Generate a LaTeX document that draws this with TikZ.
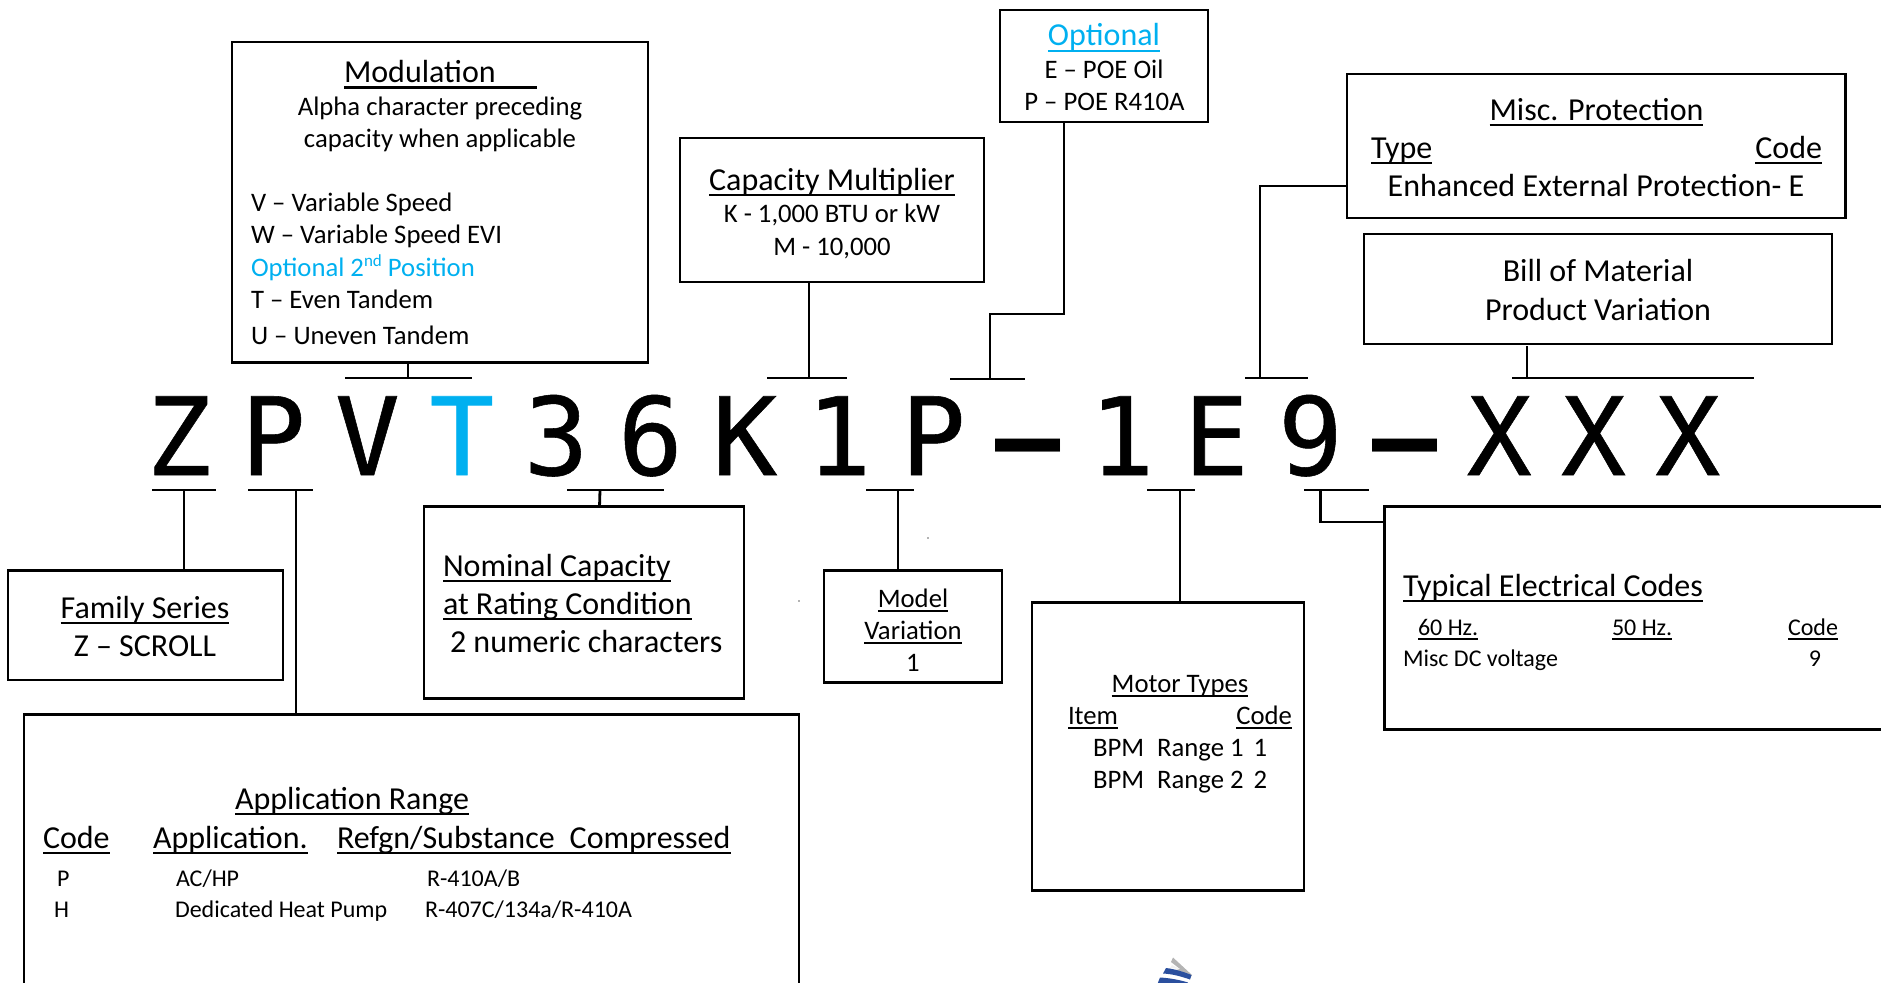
\documentclass[tikz,border=0pt]{standalone}
\usepackage{fontspec}
\setmainfont{Carlito}
\newfontfamily\codefont[LetterSpace=27.1,FakeBold=0.5]{DejaVu Sans Mono}
\newfontfamily\codedash{DejaVu Sans Mono Bold}
\definecolor{optblue}{HTML}{00B0F0}
\definecolor{logoblue}{HTML}{2A4F9E}
\definecolor{logogray}{HTML}{B4B4B4}
\newsavebox\ulbox
\newcommand\ul[1]{\sbox\ulbox{#1}\leavevmode\rlap{\rule[-0.195em]{\wd\ulbox}{0.08em}}\usebox\ulbox}
\newcommand\szH{\fontsize{32}{38}\selectfont}
\newcommand\szB{\fontsize{26.7}{32}\selectfont}
\newcommand\szS{\fontsize{24}{29}\selectfont}
\newcommand\gapc{\kern 29.3pt\relax}
\newcommand\dashc{{\codedash –}}
\newcommand\bx[5]{\node[boxs,minimum width={(#4-#2)*1pt},minimum height={(#5-#3)*1pt}] (#1) at ({(#2+#4)/2},{(#3+#5)/2}) {};}
\newcommand\tbar[5]{\coordinate (#1l) at (#2,#4);\coordinate (#1r) at (#3,#4);\coordinate (#1m) at (#5,#4);\draw[conn] (#1l) -- (#1r);}
\tikzset{
  boxs/.style={draw=black,line width=2.8pt,inner sep=0pt,outer sep=0pt,fill=none},
  conn/.style={draw=black,line width=2.8pt},
  thin conn/.style={draw=black,line width=2pt},
  tl/.style={anchor=base west,inner sep=0pt,outer sep=0pt},
  tc/.style={anchor=base,inner sep=0pt,outer sep=0pt},
  tr/.style={anchor=base east,inner sep=0pt,outer sep=0pt},
}
\begin{document}
\begin{tikzpicture}[x=1pt,y=-1pt]
\useasboundingbox (0,0) rectangle (1881,982);
\clip (0,0) rectangle (1881,982);
% boxes
\bx{mod}{232}{42}{648}{362.5}
\bx{opt}{1000}{10}{1208}{122}
\bx{cap}{680}{138}{984}{282}
\bx{misc}{1347}{74}{1845.5}{218}
\bx{bom}{1364}{234}{1832}{344}
\bx{fam}{8}{570.5}{283}{680}
\bx{nom}{424}{506.5}{744}{698.5}
\bx{mdl}{824}{570.5}{1002}{682.5}
\bx{mot}{1032}{602.5}{1304}{890.5}
\bx{ele}{1384.5}{506.5}{1900}{729.5}
\bx{app}{24}{714.5}{799}{1000}
% code
\node[tl] (code) at (146.5,475) {\fontsize{108}{108}\codefont ZPV\gapc\textcolor{optblue}{T}\gapc 36K1P\gapc\dashc\gapc 1E9\gapc\dashc\gapc XXX};
% top bars
\tbar{a}{345}{472}{378}{408}
\draw[conn] (am) -- (am |- mod.south);
\tbar{b}{767}{847}{378}{809}
\draw[conn] (bm) -- (bm |- cap.south);
\tbar{c}{950}{1025}{379}{990}
\coordinate (cj) at (1064,314);
\draw[conn] (cm) -- (cm |- cj) -- (cj) -- (cj |- opt.south);
\tbar{d}{1245}{1308}{378}{1260}
\coordinate (dj) at (1260,186);
\draw[conn] (dm) -- (dj) -- (dj -| misc.west);
\tbar{e}{1512}{1754}{378}{1527}
\coordinate (et) at (1527,346);
\draw[conn] (em) -- (et);
% bottom bars
\tbar{f}{152}{216}{490}{184}
\draw[conn] (fm) -- (fm |- fam.north);
\tbar{g}{248}{313}{490}{296}
\draw[thin conn] (gm) -- (gm |- app.north);
\tbar{h}{567}{664}{490}{600}
\draw[conn] (hm) -- (599.5,507);
\tbar{i}{866}{914}{490}{898}
\draw[conn] (im) -- (im |- mdl.north);
\tbar{j}{1147}{1195}{490}{1180}
\draw[conn] (jm) -- (jm |- mot.north);
\coordinate (jl2) at (1122,602.5);
\coordinate (jr2) at (1186,602.5);
\draw[line width=3.2pt] (jl2) -- (jr2);
\tbar{k}{1304}{1369}{490}{1320.5}
\coordinate (kj) at (1320.5,522);
\draw[conn] (km) -- (kj) -- (kj -| ele.west);
% Modulation
\node[tl] (m1) at (344,82.5) {\szH\ul{Modulation\hspace{41pt}}};
\node[tc] (m2) at (440,115.5) {\szB Alpha character preceding};
\node[tc] (m3) at (440,147.5) {\szB capacity when applicable};
\node[tl] (m4) at (251,211) {\szB V – Variable Speed};
\node[tl] (m5) at (251,243) {\szB W – Variable Speed EVI};
\node[tl] (m6) at (251,276) {\szB\color{optblue}Optional 2\raisebox{0.36em}{\fontsize{17}{17}\selectfont nd} Position};
\node[tl] (m7) at (251,308) {\szB T – Even Tandem};
\node[tl] (m8) at (251,344.5) {\szB U – Uneven Tandem};
% Optional
\node[tc] (o1) at (1104,46) {\szH\color{optblue}\ul{Optional}};
\node[tc] (o2) at (1104,78) {\szB E – POE Oil};
\node[tc] (o3) at (1104.5,110) {\szB P – POE R410A};
% Capacity
\node[tc] (c1) at (832,190) {\szH\ul{Capacity Multiplier}};
\node[tc] (c2) at (832,222.5) {\szB K - 1,000 BTU or kW};
\node[tc] (c3) at (832,255) {\szB M - 10,000};
% Misc
\node[tc] (p1) at (1596.5,120) {\szH\ul{Misc. Protection}};
\node[tl] (p2) at (1371,158) {\szH\ul{Type}};
\node[tr] (p3) at (1822,158) {\szH\ul{Code}};
\node[tc] (p4) at (1596,196) {\szH Enhanced External Protection- E};
% BoM
\node[tc] (q1) at (1598,281) {\szH Bill of Material};
\node[tc] (q2) at (1598,320) {\szH Product Variation};
% Family
\node[tc] (f1) at (145,618) {\szH\ul{Family Series}};
\node[tc] (f2) at (145,656) {\szH Z – SCROLL};
% Nominal
\node[tl] (n1) at (443,576) {\szH\ul{Nominal Capacity}};
\node[tl] (n2) at (443,614) {\szH\ul{at Rating Condition}};
\node[tl] (n3) at (450,652) {\szH 2 numeric characters};
% Model
\node[tc] (v1) at (913,607) {\szB\ul{Model}};
\node[tc] (v2) at (913,639) {\szB\ul{Variation}};
\node[tc] (v3) at (913,671) {\szB 1};
% Motor
\node[tc] (t1) at (1180,692) {\szB\ul{Motor Types}};
\node[tl] (t2) at (1068,724) {\szB\ul{Item}};
\node[tr] (t3) at (1292,724) {\szB\ul{Code}};
\node[tl] (t4) at (1093,756) {\szB BPM\hspace{13pt}Range 1\hspace{10pt}1};
\node[tl] (t5) at (1093,788) {\szB BPM\hspace{13pt}Range 2\hspace{10pt}2};
% Electrical
\node[tl] (e1) at (1403,596) {\szH\ul{Typical Electrical Codes}};
\node[tl] (e2) at (1418,635) {\szS\ul{60 Hz.}};
\node[tl] (e3) at (1612,635) {\szS\ul{50 Hz.}};
\node[tl] (e4) at (1788,635) {\szS\ul{Code}};
\node[tl] (e5) at (1403,666) {\szS Misc DC voltage};
\node[tc] (e6) at (1815,666) {\szS 9};
% Application
\node[tl] (r1) at (235,809) {\szH\ul{Application Range}};
\node[tl] (r2) at (43,848) {\szH\ul{Code}};
\node[tl] (r3) at (153,848) {\szH\ul{Application.}};
\node[tl] (r4) at (337,848) {\szH\ul{Refgn/Substance\hspace{15pt}Compressed}};
\node[tl] (r5) at (57,886) {\szS P};
\node[tl] (r6) at (176,886) {\szS AC/HP};
\node[tl] (r7) at (427,886) {\szS R-410A/B};
\node[tl] (r8) at (54,917) {\szS H};
\node[tl] (r9) at (175,917) {\szS Dedicated Heat Pump};
\node[tl] (r10) at (425,917) {\szS R-407C/134a/R-410A};
% specks
\fill[black!60] (928,538) circle (0.8);
\fill[black!60] (799,601) circle (0.8);
% logo
\fill[logogray] (1173,957.5) -- (1192,975) -- (1190,978) -- (1172,971) -- (1180,969) -- (1171,962) -- cycle;
\fill[white!80!logogray] (1172,965) -- (1180,969) -- (1170,968) -- cycle;
\fill[logoblue] (1166,968) .. controls (1175,969) and (1184,972) .. (1191.5,975) -- (1190,979.5) .. controls (1180,976) and (1172,974) .. (1163,973.5) -- cycle;
\fill[logoblue] (1160,977.5) .. controls (1170,978) and (1180,980) .. (1188,982.5) -- (1187,985) -- (1157,985) -- cycle;
\end{tikzpicture}
\end{document}
